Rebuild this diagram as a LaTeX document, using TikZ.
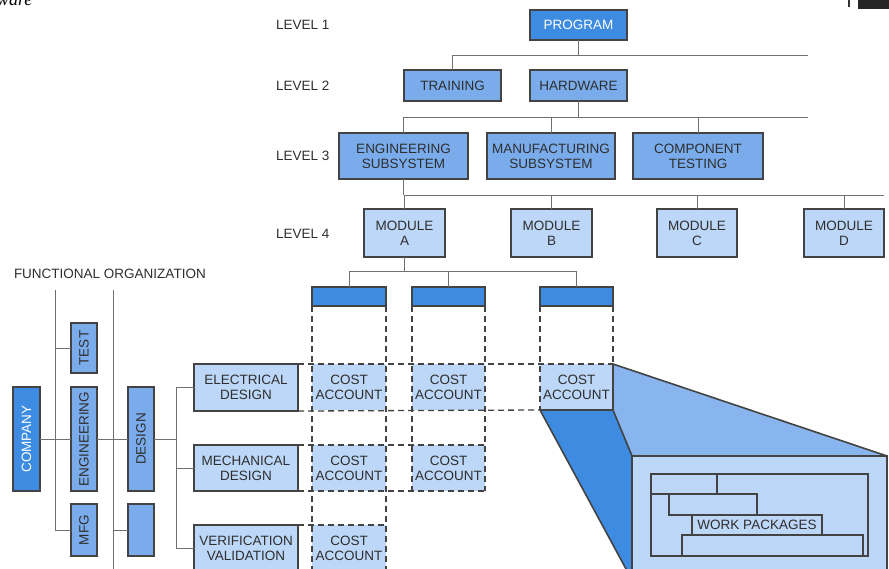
\documentclass[tikz,border=0pt]{standalone}
\usepackage{fontspec}
\usepackage{graphicx}
\setmainfont{Liberation Sans}
\newfontfamily\headserif{Liberation Serif}

\definecolor{inkc}{HTML}{2E2E2E}
\definecolor{edgec}{HTML}{434343}
\definecolor{linec}{HTML}{707070}
\definecolor{deepblue}{HTML}{3D8CE2}
\definecolor{midblue}{HTML}{7AACEC}
\definecolor{paleblue}{HTML}{BDD7F8}
\definecolor{faceblue}{HTML}{88B5EE}

\begin{document}
\begin{tikzpicture}[x=1pt,y=-1pt,
  every node/.style={font=\fontsize{13.5}{15}\selectfont, text=inkc, align=center, inner sep=0pt, outer sep=0pt},
  box/.style={draw=edgec, line width=1.6pt, anchor=north west},
  topbox/.style={box, fill=deepblue, text=white},
  midbox/.style={box, fill=midblue},
  palebox/.style={box, fill=paleblue},
  cell/.style={fill=paleblue, anchor=north west},
  conn/.style={draw=linec, line width=1pt},
  dashline/.style={draw=edgec, line width=1.3pt, dash pattern=on 6pt off 4pt},
  solidedge/.style={draw=edgec, line width=1.6pt},
  levellabel/.style={anchor=west}
]
\useasboundingbox (0,0) rectangle (889,568);
\fill[white] (0,0) rectangle (889,568);

% page header remnants
\node[anchor=base west, font=\headserif\itshape\fontsize{18}{18}\selectfont, text=black] (hdr) at (-3,5) {ware};
\fill[black!85] (858,0) rectangle (889,9);
\draw[line width=1.5pt, black!80] (849,0) -- (849,7);

% ---------- level labels ----------
\node[levellabel] (lv1) at (276,25) {LEVEL 1};
\node[levellabel] (lv2) at (276,86) {LEVEL 2};
\node[levellabel] (lv3) at (276,156) {LEVEL 3};
\node[levellabel] (lv4) at (276,234) {LEVEL 4};

% ---------- work breakdown structure ----------
\node[topbox, minimum width=97pt, minimum height=30pt] (prog) at (530,10) {PROGRAM};
\node[midbox, minimum width=97pt, minimum height=31pt] (train) at (404,70) {TRAINING};
\node[midbox, minimum width=97pt, minimum height=31pt] (hard) at (530,70) {HARDWARE};

\node[midbox, minimum width=129pt, minimum height=46pt] (engsub) at (339,133) {ENGINEERING\\SUBSYSTEM};
\node[midbox, minimum width=128pt, minimum height=46pt] (mfgsub) at (487,133) {MANUFACTURING\\SUBSYSTEM};
\node[midbox, minimum width=130pt, minimum height=46pt] (comptest) at (633,133) {COMPONENT\\TESTING};

\node[palebox, minimum width=81pt, minimum height=48pt] (modA) at (364,209) {MODULE\\A};
\node[palebox, minimum width=81pt, minimum height=48pt] (modB) at (511,209) {MODULE\\B};
\node[palebox, minimum width=80pt, minimum height=48pt] (modC) at (657,209) {MODULE\\C};
\node[palebox, minimum width=80pt, minimum height=48pt] (modD) at (804,209) {MODULE\\D};

\coordinate (bus1) at (808,55);
\coordinate (bus2) at (808,117);
\coordinate (bus3) at (884,195);

\draw[conn] (prog.south) -- (prog.south |- bus1);
\draw[conn] (train.north) |- (bus1);
\draw[conn] (hard.south) -- (hard.south |- bus2);
\draw[conn] (engsub.north) |- (bus2);
\draw[conn] (mfgsub.north) -- (mfgsub.north |- bus2);
\draw[conn] (comptest.north) -- (comptest.north |- bus2);
\draw[conn] (engsub.south) -- (engsub.south |- bus3);
\draw[conn] (modA.north) |- (bus3);
\draw[conn] (modB.north) -- (modB.north |- bus3);
\draw[conn] (modC.north) -- (modC.north |- bus3);
\draw[conn] (modD.north) -- (modD.north |- bus3);

% ---------- cost account header bars ----------
\node[topbox, line width=1.2pt, minimum width=74pt, minimum height=19pt] (bar1) at (312,287) {};
\node[topbox, line width=1.2pt, minimum width=73pt, minimum height=19pt] (bar2) at (412,287) {};
\node[topbox, line width=1.2pt, minimum width=73pt, minimum height=19pt] (bar3) at (540,287) {};

\draw[conn] (modA.south) -- ++(0,14);
\draw[conn] (bar1.north) -- ++(0,-16) -| (bar3.north);
\draw[conn] (bar2.north) -- ++(0,-16);

% ---------- functional organization ----------
\node[anchor=west] (funcorg) at (14,274) {FUNCTIONAL ORGANIZATION};

\node[topbox, minimum width=27pt, minimum height=104pt] (company) at (13,387) {\rotatebox{90}{COMPANY}};
\node[midbox, minimum width=26pt, minimum height=50pt] (test) at (71,323) {\rotatebox{90}{TEST}};
\node[midbox, minimum width=26pt, minimum height=104pt] (eng) at (71,387) {\rotatebox{90}{ENGINEERING}};
\node[midbox, minimum width=26pt, minimum height=52pt] (mfg) at (71,504) {\rotatebox{90}{MFG}};
\node[midbox, minimum width=26pt, minimum height=104pt] (design) at (128,387) {\rotatebox{90}{DESIGN}};
\node[midbox, minimum width=26pt, minimum height=52pt] (blank) at (128,504) {};

\node[palebox, minimum width=104pt, minimum height=47pt] (elec) at (194,364) {ELECTRICAL\\DESIGN};
\node[palebox, minimum width=104pt, minimum height=46pt] (mech) at (194,445) {MECHANICAL\\DESIGN};
\node[palebox, minimum width=104pt, minimum height=46pt] (verif) at (194,525) {VERIFICATION\\VALIDATION};

\coordinate (v1top) at (55,290);
\coordinate (v2top) at (113,290);
\coordinate (v2bot) at (113,575);
\coordinate (fork) at (176,439);

\draw[conn] (v1top) |- (mfg.west);
\draw[conn] (test.west) -- (test.west -| v1top);
\draw[conn] (v2top) -- (v2bot);
\draw[conn] (blank.west) -- (blank.west -| v2top);
\draw[conn] (company.east) -- (eng.west);
\draw[conn] (eng.east) -- (design.west);
\draw[conn] (design.east) -- (fork);
\draw[conn] (elec.west) -| (verif.west -| fork) -- (verif.west);
\draw[conn] (mech.west) -- (mech.west -| fork);

% ---------- cost accounts ----------
\node[cell, minimum width=74pt, minimum height=46pt] (ca11) at (312,364) {COST\\ACCOUNT};
\node[cell, minimum width=73pt, minimum height=46pt] (ca12) at (412,364) {COST\\ACCOUNT};
\node[cell, minimum width=73pt, minimum height=46pt] (ca13) at (540,364) {COST\\ACCOUNT};
\node[cell, minimum width=74pt, minimum height=46pt] (ca21) at (312,445) {COST\\ACCOUNT};
\node[cell, minimum width=73pt, minimum height=46pt] (ca22) at (412,445) {COST\\ACCOUNT};
\node[cell, minimum width=74pt, minimum height=46pt] (ca31) at (312,525) {COST\\ACCOUNT};

% dashed grid of the matrix
\draw[dashline] (bar1.south west) -- (ca31.south west);
\draw[dashline] (bar1.south east) -- (ca31.south east);
\draw[dashline] (bar2.south west) -- (ca22.south west);
\draw[dashline] (bar2.south east) -- (ca22.south east);
\draw[dashline] (bar3.south west) -- (ca13.south west);
\draw[dashline] (bar3.south east) -- (ca13.north east);
\draw[dashline] (elec.north east) -- (ca13.north east);
\draw[dashline] (elec.south east) -- (ca13.south west);
\draw[dashline] (mech.north east) -- (ca22.north east);
\draw[dashline] (mech.south east) -- (ca22.south east);
\draw[dashline] (verif.north east) -- (ca31.north east);

% ---------- exploded cost account ----------
\node[palebox, minimum width=255pt, minimum height=124pt] (bigbox) at (632,456) {};
\fill[faceblue] (ca13.north east) -- (bigbox.north east) -- (bigbox.north west) -- (ca13.south east) -- cycle;
\fill[deepblue] (ca13.south west) -- (ca13.south east) -- (bigbox.north west) -- (bigbox.south west) -- cycle;
\draw[solidedge, line join=round] (ca13.north east) -- (bigbox.north east);
\draw[solidedge] (ca13.south east) -- (bigbox.north west);
\draw[solidedge] (ca13.south west) -- (bigbox.south west);
\draw[solidedge] (ca13.north east) -- (ca13.south east) -- (ca13.south west);
\draw[solidedge] (bigbox.north west) rectangle (bigbox.south east);

% work package schedule inside
\draw[edgec, line width=1.2pt] (651,474) rectangle (868,556);
\draw[edgec, line width=1.2pt] (651,494) -- (669,494);
\draw[edgec, line width=1.2pt] (717,474) -- (717,494);
\draw[edgec, line width=1.2pt] (669,494) rectangle (757,515);
\draw[edgec, line width=1.2pt] (682,535) rectangle (863,556);
\node[draw=edgec, line width=1.2pt, anchor=north west, minimum width=130pt, minimum height=20pt] (wp) at (692,515) {WORK PACKAGES};
\end{tikzpicture}
\end{document}
